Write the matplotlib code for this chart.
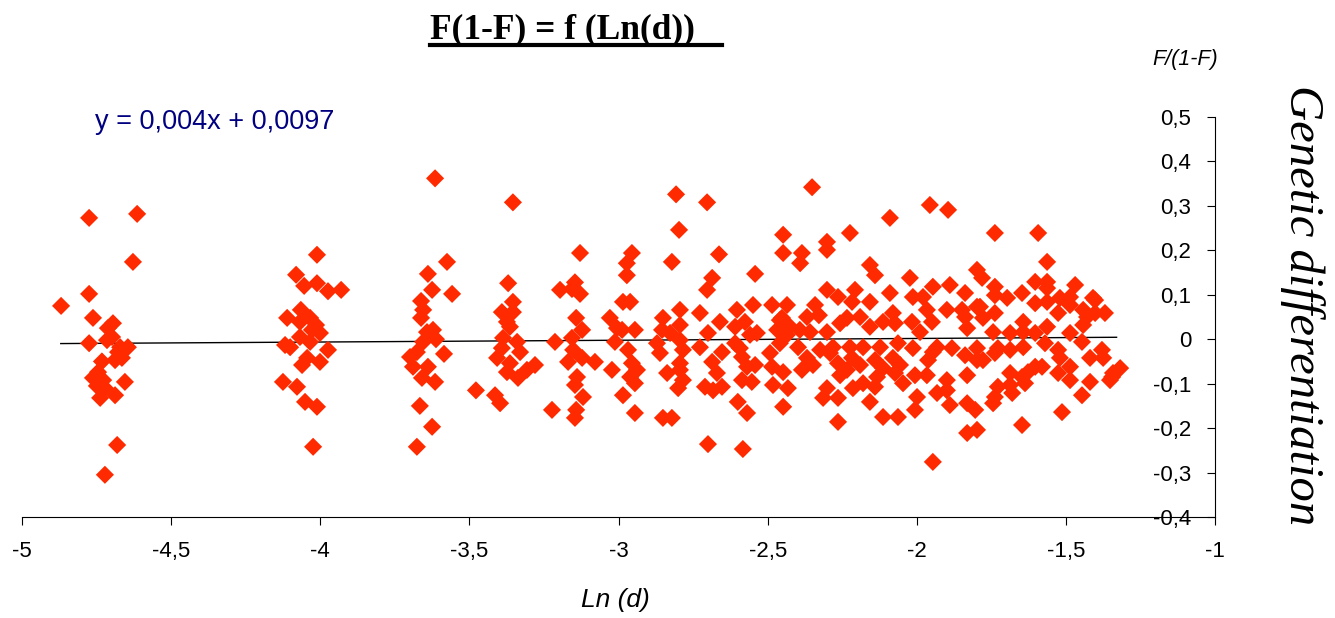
import matplotlib
matplotlib.use('Agg')
import matplotlib.pyplot as plt
from matplotlib.lines import Line2D
import numpy as np

# Ln(d) and F/(1-F) values, grouped by distance column
ln_d = [
    # around -4.75
    -4.869, -4.775, -4.762, -4.695, -4.712, -4.775, -4.715, -4.698, -4.671, -4.645,
    -4.688, -4.665, -4.745, -4.762, -4.728, -4.655, -4.722, -4.738, -4.688, -4.681,
    -4.722, -4.614, -4.628, -4.775, -4.749, -4.678, -4.732,
    # around -4.05
    -4.011, -4.081, -4.054, -4.011, -3.974, -3.930, -4.065, -4.111, -4.068, -4.034,
    -4.014, -4.001, -4.068, -4.101, -4.034, -3.974, -4.044, -4.061, -4.001, -4.125,
    -4.078, -4.051, -4.011, -4.024, -4.118, -4.028,
    # around -3.63
    -3.615, -3.575, -3.639, -3.625, -3.558, -3.662, -3.655, -3.662, -3.642, -3.622,
    -3.612, -3.655, -3.699, -3.676, -3.689, -3.639, -3.659, -3.615, -3.585, -3.666,
    -3.625, -3.676,
    # around -3.37
    -3.354, -3.370, -3.354, -3.391, -3.354, -3.374, -3.364, -3.387, -3.340, -3.391,
    -3.330, -3.407, -3.364, -3.374, -3.337, -3.307, -3.280, -3.478, -3.414, -3.397,
    # around -3.15
    -3.129, -3.146, -3.196, -3.156, -3.129, -3.142, -3.122, -3.213, -3.156, -3.152,
    -3.122, -3.169, -3.079, -3.139, -3.146, -3.119, -3.223, -3.142, -3.146,
    # around -2.97
    -3.029, -3.005, -3.012, -3.022, -2.955, -2.972, -2.972, -2.985, -2.961, -2.988,
    -2.945, -2.968, -2.955, -2.938, -2.961, -2.945, -2.985, -2.945,
    # around -2.82
    -2.807, -2.797, -2.821, -2.851, -2.794, -2.854, -2.794, -2.827, -2.871, -2.794,
    -2.861, -2.784, -2.794, -2.837, -2.794, -2.784, -2.800, -2.851, -2.821,
    # around -2.69
    -2.703, -2.663, -2.686, -2.703, -2.727, -2.660, -2.700, -2.727, -2.653, -2.686,
    -2.670, -2.710, -2.683, -2.653, -2.700,
    # around -2.58
    -2.542, -2.603, -2.549, -2.576, -2.609, -2.559, -2.593, -2.536, -2.569, -2.542,
    -2.586, -2.553, -2.600, -2.569, -2.583, -2.609, -2.586,
    # around -2.46
    -2.448, -2.448, -2.485, -2.435, -2.452, -2.468, -2.492, -2.485, -2.448, -2.482,
    -2.448, -2.432, -2.435,
    # -2.4 to -1.8
    -2.351, -2.385, -2.391, -2.301, -2.301, -2.224, -2.090, -1.956, -1.895, -2.157,
    -2.140, -2.023, -1.798, -2.301, -2.264, -2.207, -2.217, -2.157, -2.090, -1.946,
    -1.889, -1.838, -2.341, -2.013, -1.979, -1.966, -1.899, -1.848, -1.798, -2.459,
    -2.425, -2.368, -2.328, -2.392, -2.358, -2.301, -2.257, -2.234, -2.190, -2.157,
    -2.113, -2.080, -2.073, -2.016, -1.989, -1.949, -1.838, -1.831, -2.459, -2.398,
    -2.324, -2.281, -2.224, -2.180, -2.123, -2.063, -2.013, -1.932, -1.882, -2.368,
    -2.348, -2.291, -2.264, -2.217, -2.190, -2.140, -2.113, -2.080, -2.056, -1.962,
    -1.946, -1.838, -1.798, -2.385, -2.257, -2.234, -2.180, -2.133, -2.073, -2.006,
    -1.966, -1.899, -1.831, -2.301, -2.264, -2.214, -2.140, -2.046, -1.932, -1.899,
    -2.314, -2.157, -1.999, -2.006, -1.889, -1.831, -1.804, -2.264, -2.113, -2.063,
    -1.831, -1.798, -1.946,
    # -1.8 to -1.3
    -1.738, -1.593, -1.563, -1.781, -1.738, -1.738, -1.697, -1.647, -1.603, -1.563,
    -1.563, -1.603, -1.563, -1.520, -1.486, -1.469, -1.409, -1.486, -1.442, -1.429,
    -1.402, -1.369, -1.526, -1.442, -1.788, -1.778, -1.738, -1.643, -1.563, -1.744,
    -1.687, -1.643, -1.603, -1.486, -1.798, -1.728, -1.687, -1.643, -1.570, -1.526,
    -1.446, -1.778, -1.738, -1.520, -1.419, -1.379, -1.375, -1.486, -1.603, -1.580,
    -1.627, -1.526, -1.486, -1.342, -1.352, -1.419, -1.687, -1.647, -1.637, -1.728,
    -1.687, -1.680, -1.738, -1.744, -1.446, -1.513, -1.647, -1.318, -1.345, -1.402,
]

ratio = [
    0.075, 0.273, 0.048, 0.036, 0.025, -0.009, -0.002, 0.005, -0.018, -0.018,
    -0.047, -0.042, -0.074, -0.087, -0.092, -0.096, -0.110, -0.132, -0.126, -0.238,
    -0.305, 0.282, 0.174, 0.102, -0.105, -0.029, -0.050,
    0.190, 0.145, 0.120, 0.126, 0.108, 0.111, 0.066, 0.048, 0.039, 0.048,
    0.032, 0.014, 0.005, -0.018, -0.006, -0.024, -0.042, -0.058, -0.051, -0.096,
    -0.107, -0.141, -0.152, -0.242, -0.013, 0.021,
    0.362, 0.174, 0.147, 0.111, 0.102, 0.086, 0.066, 0.048, 0.016, 0.021,
    0.000, -0.006, -0.040, -0.029, -0.062, -0.062, -0.087, -0.096, -0.033, -0.150,
    -0.197, -0.242,
    0.308, 0.126, 0.084, 0.061, 0.061, 0.039, 0.028, 0.003, -0.006, -0.020,
    -0.029, -0.042, -0.054, -0.074, -0.087, -0.069, -0.058, -0.115, -0.126, -0.144,
    0.194, 0.128, 0.111, 0.113, 0.102, 0.048, 0.021, -0.006, 0.003, -0.024,
    -0.042, -0.051, -0.051, -0.085, -0.103, -0.130, -0.159, -0.159, -0.177,
    0.048, 0.025, -0.006, -0.069, 0.194, 0.171, 0.144, 0.084, 0.084, 0.021,
    0.021, -0.024, -0.054, -0.069, -0.085, -0.099, -0.126, -0.166,
    0.326, 0.246, 0.174, 0.048, 0.066, 0.021, 0.032, 0.014, -0.009, -0.002,
    -0.031, -0.024, -0.054, -0.076, -0.069, -0.092, -0.110, -0.177, -0.177,
    0.308, 0.191, 0.138, 0.111, 0.059, 0.039, 0.014, -0.018, -0.029, -0.051,
    -0.076, -0.107, -0.115, -0.107, -0.236,
    0.147, 0.066, 0.077, 0.039, 0.028, 0.010, -0.020, 0.014, -0.062, -0.058,
    -0.092, -0.096, -0.141, -0.166, -0.247, -0.009, -0.040,
    0.235, 0.194, 0.077, 0.077, 0.048, 0.021, -0.031, -0.062, -0.074, -0.103,
    -0.152, -0.110, 0.010,
    0.342, 0.194, 0.171, 0.219, 0.201, 0.239, 0.273, 0.302, 0.291, 0.167,
    0.144, 0.138, 0.156, 0.111, 0.095, 0.111, 0.084, 0.084, 0.104, 0.118,
    0.122, 0.104, 0.077, 0.095, 0.095, 0.066, 0.066, 0.066, 0.073, 0.043,
    0.028, 0.050, 0.054, 0.021, 0.016, 0.016, 0.036, 0.048, 0.050, 0.028,
    0.039, 0.059, 0.036, 0.039, 0.016, 0.039, 0.050, 0.025, -0.009, -0.018,
    -0.024, -0.018, -0.018, -0.018, -0.018, -0.009, -0.020, -0.018, -0.020, -0.042,
    -0.058, -0.031, -0.054, -0.042, -0.058, -0.047, -0.065, -0.042, -0.058, -0.047,
    -0.029, -0.036, -0.047, -0.069, -0.081, -0.069, -0.099, -0.085, -0.076, -0.081,
    -0.081, -0.092, -0.081, -0.110, -0.132, -0.110, -0.107, -0.099, -0.121, -0.115,
    -0.132, -0.141, -0.130, -0.159, -0.148, -0.144, -0.159, -0.186, -0.175, -0.175,
    -0.211, -0.204, -0.276,
    0.239, 0.239, 0.174, 0.138, 0.118, 0.099, 0.093, 0.104, 0.129, 0.129,
    0.115, 0.081, 0.084, 0.093, 0.095, 0.122, 0.093, 0.077, 0.066, 0.050,
    0.059, 0.059, 0.059, 0.032, 0.073, 0.048, 0.059, 0.039, 0.028, 0.016,
    0.014, 0.016, 0.014, 0.014, -0.020, -0.020, -0.024, -0.018, -0.009, -0.024,
    -0.006, -0.047, -0.031, -0.042, -0.042, -0.024, -0.042, -0.062, -0.062, -0.062,
    -0.074, -0.076, -0.092, -0.076, -0.092, -0.096, -0.076, -0.085, -0.099, -0.107,
    -0.103, -0.121, -0.130, -0.144, -0.126, -0.164, -0.193, -0.065, -0.085, 0.088,
]

x_ticks = [-5, -4.5, -4, -3.5, -3, -2.5, -2, -1.5, -1]
x_tick_labels = ['-5', '-4,5', '-4', '-3,5', '-3', '-2,5', '-2', '-1,5', '-1']
y_ticks = [-0.4, -0.3, -0.2, -0.1, 0, 0.1, 0.2, 0.3, 0.4, 0.5]
y_tick_labels = ['-0,4', '-0,3', '-0,2', '-0,1', '0', '0,1', '0,2', '0,3', '0,4', '0,5']

slope, intercept = 0.004, 0.0097
trend_range = [-4.87, -1.33]

plt.rcParams['font.family'] = 'Liberation Sans'

W, H = 1335, 618
fig = plt.figure(figsize=(W / 100, H / 100), dpi=100)
ax = fig.add_axes([22 / W, 1 - 517 / H, (1215 - 22) / W, 400 / H])

ax.scatter(ln_d, ratio, marker='D', s=85, color='#ff2a00', edgecolors='none', zorder=3)
tx = np.array(trend_range)
ax.plot(tx, slope * tx + intercept, color='black', lw=1, zorder=2)

ax.set_xlim(-5, -1)
ax.set_ylim(-0.4, 0.5)
ax.spines['top'].set_visible(False)
ax.spines['right'].set_visible(False)
ax.spines['left'].set_position(('data', -1))

ax.set_xticks(x_ticks)
ax.set_xticklabels(x_tick_labels)
ax.set_yticks(y_ticks)
ax.set_yticklabels(y_tick_labels)
ax.tick_params(axis='x', direction='out', length=6, pad=11, labelsize=16)
ax.tick_params(axis='y', direction='out', length=6, pad=11, labelsize=16)

# titles and labels
fig.text(562 / W, 1 - 38 / H, 'F(1-F) = f (Ln(d))', ha='center', va='baseline',
         family='Liberation Serif', weight='bold', fontsize=25.5)
fig.add_artist(Line2D([430 / W, 722 / W], [1 - 45 / H, 1 - 45 / H], lw=3, color='black',
                      transform=fig.transFigure))
fig.text(95 / W, 1 - 122 / H, 'y = 0,004x + 0,0097', ha='left', va='center',
         color='#000080', fontsize=19.5)
fig.text(1185 / W, 1 - 60 / H, 'F/(1-F)', ha='center', va='center', style='italic', fontsize=15.5)
fig.text(615 / W, 1 - 600 / H, 'Ln (d)', ha='center', va='center', style='italic', fontsize=19)
fig.text(1302 / W, 1 - 305 / H, 'Genetic differentiation', ha='center', va='center',
         rotation=-90, family='Liberation Serif', style='italic', fontsize=35)

fig.savefig('out.png', dpi=100)
